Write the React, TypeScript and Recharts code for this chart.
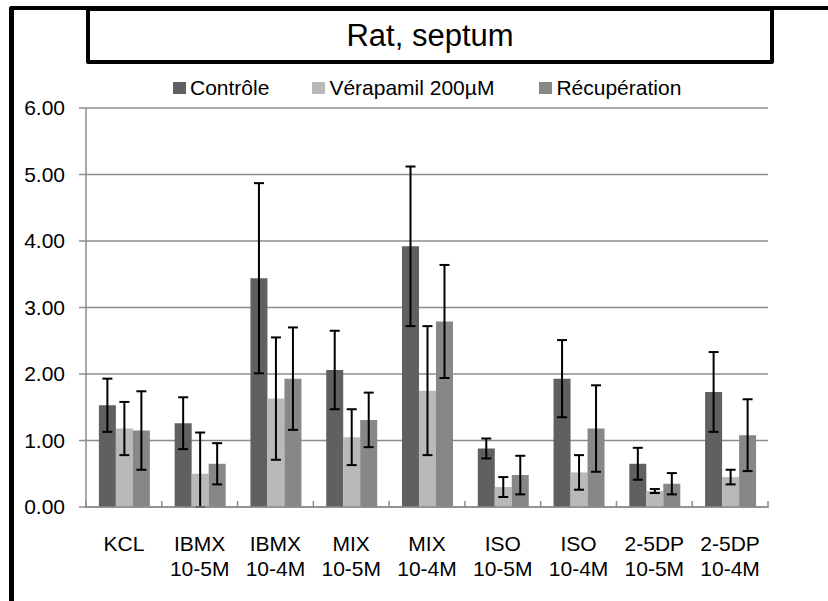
import { BarChart, Bar, XAxis, YAxis, CartesianGrid, ErrorBar, Legend } from 'recharts';

const categories = ['KCL', 'IBMX 10-5M', 'IBMX 10-4M', 'MIX 10-5M', 'MIX 10-4M', 'ISO 10-5M', 'ISO 10-4M', '2-5DP 10-5M', '2-5DP 10-4M'];

const controle = [1.53, 1.26, 3.44, 2.06, 3.92, 0.88, 1.93, 0.65, 1.73];
const controleErr = [0.40, 0.39, 1.43, 0.59, 1.20, 0.15, 0.58, 0.24, 0.60];
const verapamil = [1.18, 0.50, 1.63, 1.05, 1.75, 0.30, 0.52, 0.24, 0.45];
const verapamilErr = [0.40, 0.62, 0.92, 0.42, 0.97, 0.15, 0.26, 0.03, 0.11];
const recuperation = [1.15, 0.65, 1.93, 1.31, 2.79, 0.48, 1.18, 0.35, 1.08];
const recuperationErr = [0.59, 0.31, 0.77, 0.41, 0.85, 0.29, 0.65, 0.16, 0.54];

const yTicks = [0, 1, 2, 3, 4, 5, 6];

const SERIES = [
    { key: 'controle', name: 'Contrôle', color: '#606060' },
    { key: 'verapamil', name: 'Vérapamil 200µM', color: '#b9b9b9' },
    { key: 'recuperation', name: 'Récupération', color: '#878787' },
];

const FONT = '"Liberation Sans", Arial, sans-serif';
const W = 828;
const H = 601;
const PLOT_LEFT = 86;
const PLOT_RIGHT = 768;
const BAND = (PLOT_RIGHT - PLOT_LEFT) / categories.length;

// error bars can't go under zero (excel clips them at the axis)
const err = (v: number, e: number) => [Math.min(e, v), e];

const data = categories.map((name, i) => ({
    name,
    controle: controle[i],
    controleErr: err(controle[i], controleErr[i]),
    verapamil: verapamil[i],
    verapamilErr: err(verapamil[i], verapamilErr[i]),
    recuperation: recuperation[i],
    recuperationErr: err(recuperation[i], recuperationErr[i]),
}));

const CategoryTick = (props: any) => {
    const { x, y, payload, index } = props;
    const lines = String(payload.value).split(' ');
    const left = x - BAND / 2;
    return (
        <g>
            <line x1={left} x2={left} y1={y - 14} y2={y - 7} stroke="#8c8c8c" strokeWidth={1.5} />
            {index === categories.length - 1 && (
                <line x1={left + BAND} x2={left + BAND} y1={y - 14} y2={y - 7} stroke="#8c8c8c" strokeWidth={1.5} />
            )}
            {lines.map((l, i) => (
                <text key={i} x={x} y={y + 36 + i * 25} textAnchor="middle" fontSize={21} fill="#000" fontFamily={FONT}>
                    {l}
                </text>
            ))}
        </g>
    );
};

const LegendContent = () => (
    <div style={{ display: 'flex', justifyContent: 'flex-start', paddingLeft: 173, fontFamily: FONT, fontSize: 21, color: '#000' }}>
        {SERIES.map((s, i) => (
            <div key={s.key} style={{ display: 'flex', alignItems: 'center', marginRight: i === 0 ? 43 : 45 }}>
                <span style={{ display: 'inline-block', width: 13, height: 12, background: s.color, marginRight: 4 }} />
                <span>{s.name}</span>
            </div>
        ))}
    </div>
);

export default function App() {
    return (
        <div style={{ position: 'absolute', left: 0, top: 0, width: W, height: H, overflow: 'hidden', background: '#fff' }}>
            <BarChart
                width={W}
                height={H}
                data={data}
                margin={{ top: 108, right: W - PLOT_RIGHT, bottom: 24, left: 0 }}
                barCategoryGap="17%"
                barGap={0}
            >
                <CartesianGrid vertical={false} stroke="#8c8c8c" strokeWidth={1.5} />
                <XAxis
                    dataKey="name"
                    height={70}
                    interval={0}
                    tickLine={false}
                    tick={<CategoryTick />}
                    axisLine={{ stroke: '#8c8c8c', strokeWidth: 1.5 }}
                />
                <YAxis
                    width={PLOT_LEFT}
                    domain={[0, 6]}
                    ticks={yTicks}
                    tickFormatter={(v: number) => v.toFixed(2)}
                    tickSize={7}
                    tickMargin={14}
                    tickLine={{ stroke: '#8c8c8c', strokeWidth: 1.5 }}
                    axisLine={{ stroke: '#8c8c8c', strokeWidth: 1.5 }}
                    tick={{ fontSize: 21, fill: '#000', fontFamily: FONT }}
                />
                <Legend
                    verticalAlign="middle"
                    layout="horizontal"
                    wrapperStyle={{ top: 76, left: 0, width: W }}
                    content={<LegendContent />}
                />
                {SERIES.map((s) => (
                    <Bar key={s.key} dataKey={s.key} name={s.name} fill={s.color} isAnimationActive={false}>
                        <ErrorBar dataKey={`${s.key}Err`} width={5} stroke="#000" strokeWidth={2} isAnimationActive={false} />
                    </Bar>
                ))}
            </BarChart>

            {/* outer frame, only left and top edges are visible */}
            <div style={{ position: 'absolute', left: 9, top: 6, width: W, height: H, borderLeft: '5px solid #000', borderTop: '4px solid #000', borderTopLeftRadius: 3 }} />

            {/* title box */}
            <div
                style={{
                    position: 'absolute', left: 86, top: 7, width: 680, height: 49,
                    border: '4px solid #000', borderRadius: 2,
                    display: 'flex', alignItems: 'center', justifyContent: 'center',
                    fontFamily: FONT, fontSize: 31, color: '#000',
                }}
            >
                Rat, septum
            </div>
        </div>
    );
}
